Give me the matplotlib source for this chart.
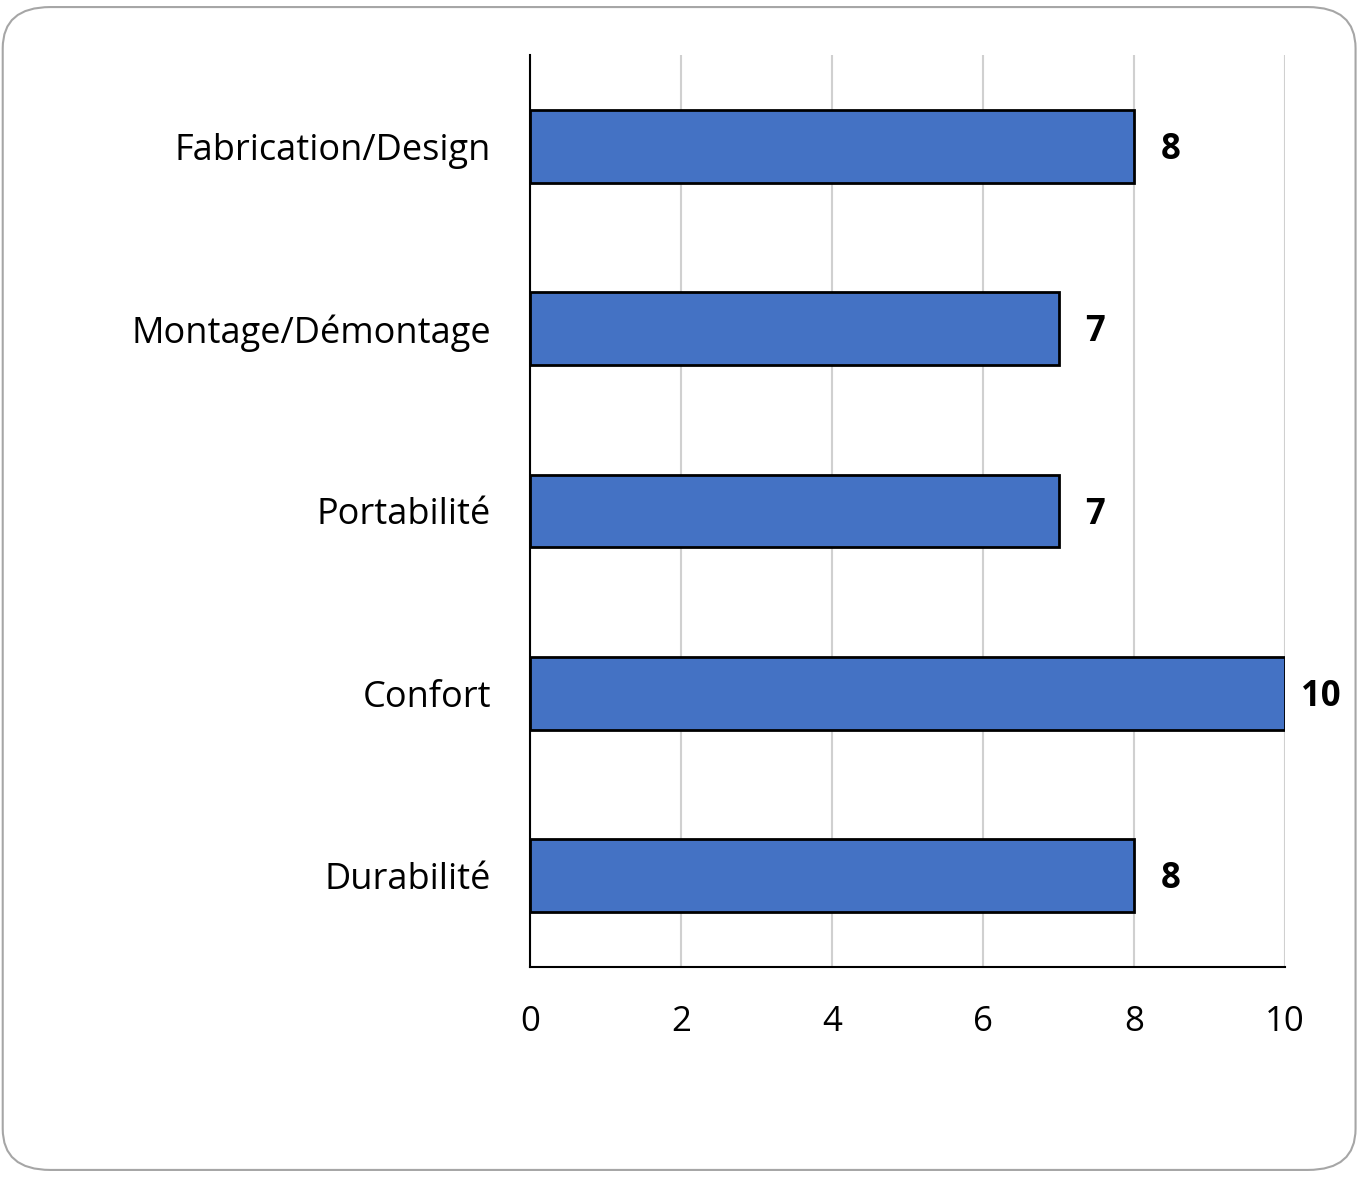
import matplotlib.pyplot as plt
from matplotlib.patches import FancyBboxPatch

categories = ['Fabrication/Design', 'Montage/Démontage', 'Portabilité', 'Confort', 'Durabilité']
scores = [8, 7, 7, 10, 8]
ticks = [0, 2, 4, 6, 8, 10]

plt.rcParams['font.family'] = ['Open Sans', 'DejaVu Sans']

fig = plt.figure(figsize=(13.61, 11.77), dpi=100)
fig.patch.set_facecolor('white')

# rounded frame round the whole chart
frame = FancyBboxPatch((0.002, 0.006), 0.994, 0.988,
                       boxstyle='round,pad=0,rounding_size=0.035',
                       transform=fig.transFigure, facecolor='none',
                       edgecolor='#a6a6a6', linewidth=1.5)
fig.patches.append(frame)

ax = fig.add_axes([0.3894, 0.1784, 0.5548, 0.7749])
ax.set_facecolor('none')

ypos = list(range(len(categories)))[::-1]
ax.barh(ypos, scores, height=0.4, color='#4472C4', edgecolor='black',
        linewidth=2, zorder=3)

for y, v in zip(ypos, scores):
    ax.text(v + 0.48, y - 0.02, str(v), va='center', ha='center',
            fontsize=25, fontweight='bold')

ax.set_xlim(0, 10)
ax.set_ylim(-0.5, 4.5)
ax.set_xticks(ticks)
ax.set_xticklabels([str(t) for t in ticks], fontsize=25)
ax.set_yticks(ypos)
ax.set_yticklabels(categories, fontsize=26)
for lab in ax.get_yticklabels():
    lab.set_y(lab.get_position()[1])
ax.tick_params(axis='both', length=0)
ax.tick_params(axis='x', pad=27)
ax.tick_params(axis='y', pad=28)

ax.grid(axis='x', color='#d0d0d0', linewidth=1.5, zorder=0)
ax.spines['top'].set_visible(False)
ax.spines['right'].set_visible(False)
ax.spines['left'].set_linewidth(1.5)
ax.spines['bottom'].set_linewidth(1.5)
ax.spines['left'].set_zorder(4)

fig.savefig('out.png', dpi=100)
